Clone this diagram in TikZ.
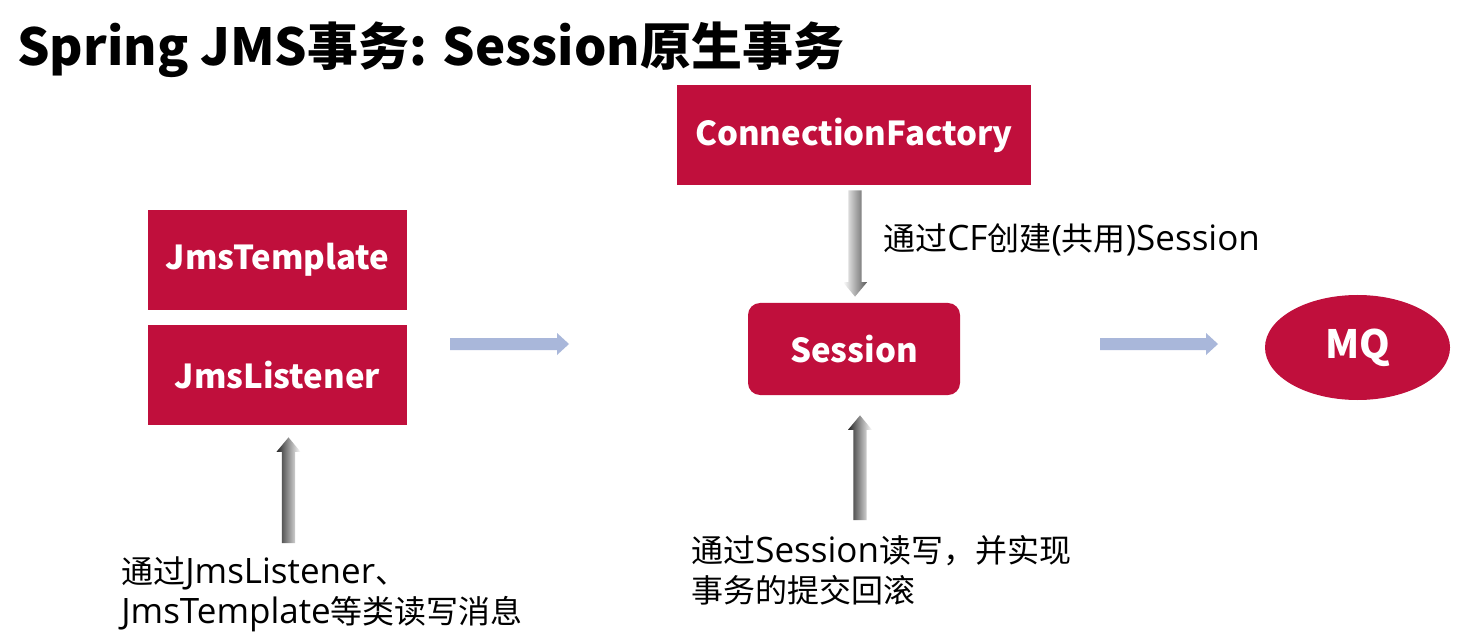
\documentclass[tikz,border=0pt]{standalone}
\usepackage{fontspec}
\setmainfont{Noto Sans CJK SC}
\newfontfamily\notefont{Open Sans}
\newfontfamily\zhfont[Scale=0.914]{Noto Sans CJK SC}
\newcommand\zh[1]{{\zhfont #1}}
\usetikzlibrary{calc,shapes.geometric}

\definecolor{boxred}{HTML}{C00F3C}
\definecolor{flowblue}{HTML}{A9B7DA}

% vertical grey arrow with a sideways shading: #1 tail, #2 tip, #3 shading
\newcommand\vshadearrow[3]{%
  \shade[#3] let \p1=(#1), \p2=(#2), \n1={((\y2>\y1)*2-1)*7.2pt} in
    ({\x1-3.3pt},{\y1}) -- ({\x1-3.3pt},{\y2-\n1}) -- ({\x1-6pt},{\y2-\n1})
    -- (\x2,\y2) -- ({\x1+6pt},{\y2-\n1}) -- ({\x1+3.3pt},{\y2-\n1})
    -- ({\x1+3.3pt},{\y1}) -- cycle;}

% flat horizontal block arrow: #1 tail, #2 tip
\newcommand\hflowarrow[2]{%
  \fill[flowblue] let \p1=(#1), \p2=(#2) in
    ({\x1},{\y1-3pt}) -- ({\x2-6pt},{\y1-3pt}) -- ({\x2-6pt},{\y1-5.5pt}) -- (\x2,\y2)
    -- ({\x2-6pt},{\y1+5.5pt}) -- ({\x2-6pt},{\y1+3pt}) -- ({\x1},{\y1+3pt}) -- cycle;}

\tikzset{
  redbox/.style={fill=boxred, text=white, inner sep=0pt,
    font=\bfseries\fontsize{16.5}{20}\selectfont},
  note/.style={anchor=west, inner sep=0pt, align=left, text=black,
    font=\notefont\fontsize{17.5}{20}\selectfont},
  upshade/.style={left color=black!85, right color=white},
  downshade/.style={left color=white, right color=black!65},
}

\begin{document}
\begin{tikzpicture}[x=0.5pt, y=-0.5pt]
\useasboundingbox[fill=white] (0,0) rectangle (1470,641);

% heading
\node[anchor=base west, inner sep=0pt, font=\bfseries\fontsize{25.5}{30}\selectfont]
  (title) at (17,66) {Spring JMS事务: Session原生事务};

% boxes
\node[redbox, minimum width=177pt, minimum height=50pt] (cf) at (854,135) {ConnectionFactory};
\node[redbox, minimum width=129.5pt, minimum height=50pt] (jt) at (277.5,260) {JmsTemplate};
\node[redbox, minimum width=129.5pt, minimum height=50pt] (jl) at (277.5,375) {JmsListener};
\node[redbox, rounded corners=6pt, minimum width=106pt, minimum height=46pt] (sess) at (854,349) {Session};
\node[redbox, ellipse, minimum width=92.5pt, minimum height=52.5pt,
  font=\bfseries\fontsize{19.5}{22}\selectfont] (mq) at (1357.5,347.5) {MQ};

% notes
\node[note] (cfnote) at (883,240) {\zh{通过}CF\zh{创建}(\zh{共用})Session};
\node[note] (sessnote) at (691,570) {\zh{通过}Session\zh{读写，并实现}\\\zh{事务的提交回滚}};
\node[note] (jmsnote) at (121,594) {\zh{通过}JmsListener\zh{、}\\JmsTemplate\zh{等类读写消息}};

% connector end points
\coordinate (cfout) at ($(cf.south)+(1,5)$);
\coordinate (sessin) at ($(sess.north)+(1,-6)$);
\coordinate (sessup) at ($(sess.south)+(6,20)$);
\coordinate (sessbase) at (860,520);
\coordinate (jlup) at ($(jl.south)+(11,12)$);
\coordinate (jlbase) at (288.5,543);
\coordinate (b1s) at (450,344);
\coordinate (b1e) at (569,344);
\coordinate (b2s) at (1100,344);
\coordinate (b2e) at (1218,344);

% grey arrows
\vshadearrow{cfout}{sessin}{downshade}
\vshadearrow{sessbase}{sessup}{upshade}
\vshadearrow{jlbase}{jlup}{upshade}

% flow arrows
\hflowarrow{b1s}{b1e}
\hflowarrow{b2s}{b2e}
\end{tikzpicture}
\end{document}
